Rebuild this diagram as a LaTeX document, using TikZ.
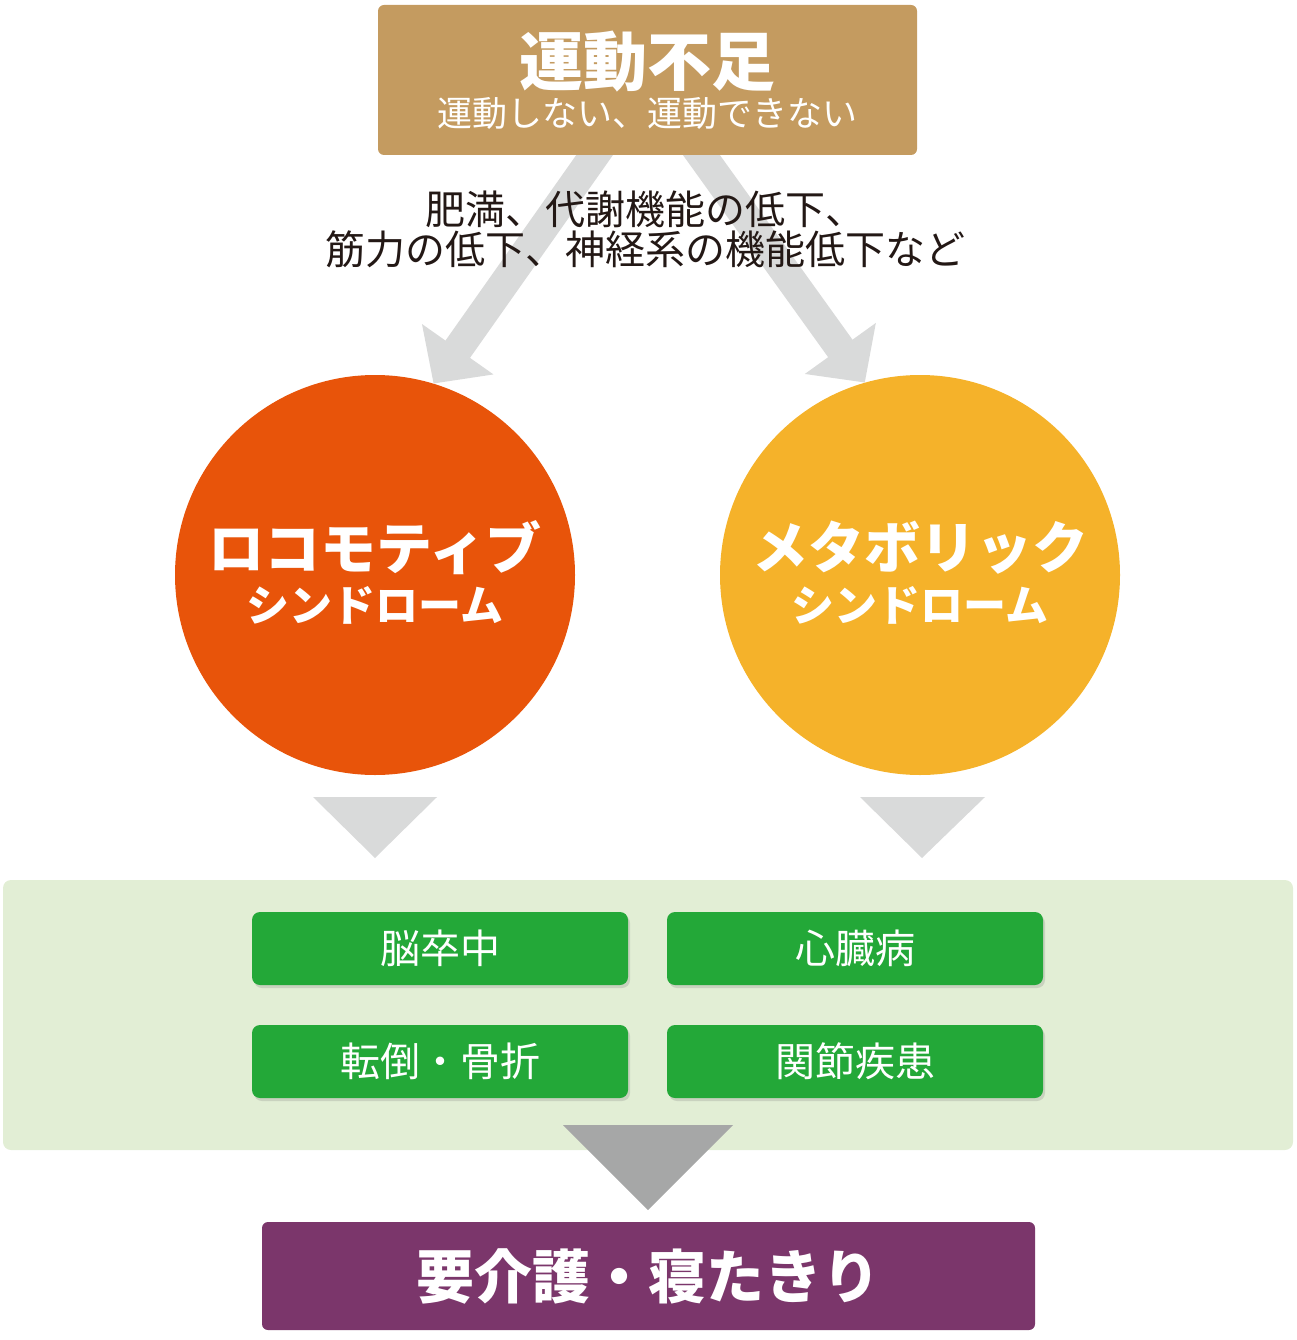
\documentclass[tikz,border=0pt]{standalone}
\usepackage{fontspec}
\setmainfont{Noto Sans CJK JP}
\usepackage{tikz}
\usetikzlibrary{arrows.meta,backgrounds,shadows}

\definecolor{tanbox}{RGB}{196,155,96}
\definecolor{arrowgray}{RGB}{217,218,218}
\definecolor{darkarrow}{RGB}{166,167,167}
\definecolor{locored}{RGB}{232,84,10}
\definecolor{metaorange}{RGB}{245,178,42}
\definecolor{panelgreen}{RGB}{226,238,213}
\definecolor{leafgreen}{RGB}{35,168,56}
\definecolor{careplum}{RGB}{123,54,107}
\definecolor{inkdark}{RGB}{35,24,21}

\begin{document}
\begin{tikzpicture}[x=1pt,y=-1pt,every node/.style={inner sep=0pt},
    fsz/.style={font=\fontsize{#1}{#1}\selectfont},
    heavy/.style={text=white,font=\fontsize{#1}{#1}\selectfont\bfseries},
    disease/.style={fill=leafgreen,rounded corners=8pt,minimum width=376pt,minimum height=73pt,
      text=white,fsz=40,drop shadow={opacity=0.25,shadow xshift=2pt,shadow yshift=-3pt}},
    bigarrow/.style={line width=30pt,draw=arrowgray,-{Triangle[width=85pt,length=42pt]}}]
  \useasboundingbox (0,0) rectangle (1296,1340);

  % cause
  \node[fill=tanbox,rounded corners=6pt,minimum width=539pt,minimum height=150pt] (top) at (647.5,80) {};
  \node[heavy=64] (topttl) at (647,62) {運動不足};
  \node[text=white,fsz=35] (topsub) at (647,113) {運動しない、運動できない};

  % syndromes
  \node[circle,fill=locored,minimum size=400pt] (loco) at (375,575) {};
  \node[heavy=56] (locottl) at (375,548) {ロコモティブ};
  \node[heavy=43] (locosub) at (375,605) {シンドローム};
  \node[circle,fill=metaorange,minimum size=400pt] (meta) at (920,575) {};
  \node[heavy=56] (metattl) at (920,548) {メタボリック};
  \node[heavy=43] (metasub) at (920,605) {シンドローム};

  \begin{scope}[on background layer]
    \draw[bigarrow] (top.center) -- (loco.73);
    \draw[bigarrow] (top.center) -- (meta.106);
  \end{scope}
  \node[align=center,text=inkdark,font=\fontsize{40}{40}\selectfont] (cause) at (645,229)
    {肥満、代謝機能の低下、\\筋力の低下、神経系の機能低下など};

  \fill[arrowgray] (313,797) -- (437,797) -- (375,858) -- cycle;
  \fill[arrowgray] (860,797) -- (985,797) -- (922,858) -- cycle;

  % diseases
  \node[fill=panelgreen,rounded corners=8pt,minimum width=1290pt,minimum height=270pt] (panel) at (648,1015) {};
  \node[disease] (stroke) at (440,948.5) {脳卒中};
  \node[disease] (heart) at (855,948.5) {心臓病};
  \node[disease] (fall) at (440,1061.5) {転倒・骨折};
  \node[disease] (joint) at (855,1061.5) {関節疾患};

  \fill[darkarrow] (563,1125) -- (733,1125) -- (648,1210) -- cycle;

  % outcome
  \node[fill=careplum,rounded corners=6pt,minimum width=773pt,minimum height=108pt] (care) at (648.5,1276) {};
  \node[heavy=58] (carettl) at (648,1276) {要介護・寝たきり};
\end{tikzpicture}
\end{document}
